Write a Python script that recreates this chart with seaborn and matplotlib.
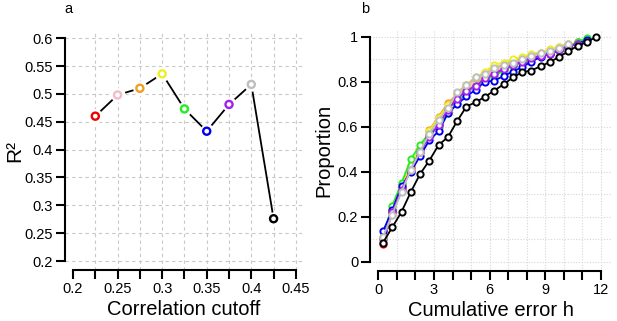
import numpy as np
import pandas as pd
import seaborn as sns
import matplotlib.pyplot as plt

# panel a: R^2 per correlation cutoff
cutoffs = [0.225, 0.25, 0.275, 0.3, 0.325, 0.35, 0.375, 0.4, 0.425]
r2 = [0.460, 0.498, 0.510, 0.536, 0.473, 0.433, 0.481, 0.517, 0.276]
cutoff_colors = ["#ee0000", "#f4bcc8", "#f0a020", "#eeee22", "#22ee22", "#0000ee", "#a020f0", "#bebebe", "black"]

# panel b: cumulative proportion vs cumulative error h, one curve per cutoff
err_h = [0.25 + 0.5 * i for i in range(24)]
prop_red = [0.08, 0.22, 0.33, 0.42, 0.49, 0.56, 0.61, 0.68, 0.73, 0.76, 0.785, 0.815,
            0.84, 0.86, 0.875, 0.89, 0.905, 0.915, 0.925, 0.94, 0.96, 0.975]
prop_pink = [0.09, 0.21, 0.315, 0.41, 0.49, 0.565, 0.62, 0.69, 0.74, 0.775, 0.80, 0.825,
             0.845, 0.865, 0.88, 0.895, 0.91, 0.925, 0.935, 0.95, 0.965]
prop_orange = [0.10, 0.23, 0.34, 0.425, 0.50, 0.585, 0.645, 0.705, 0.745, 0.785, 0.815, 0.84,
               0.86, 0.875, 0.89, 0.905, 0.92, 0.93, 0.94, 0.955, 0.97]
prop_yellow = [0.10, 0.24, 0.345, 0.43, 0.505, 0.58, 0.64, 0.695, 0.74, 0.785, 0.82, 0.845,
               0.875, 0.885, 0.90, 0.91, 0.925, 0.93, 0.945, 0.955, 0.97]
prop_green = [0.11, 0.25, 0.35, 0.455, 0.52, 0.57, 0.60, 0.66, 0.705, 0.755, 0.78, 0.81,
              0.825, 0.85, 0.87, 0.885, 0.90, 0.915, 0.93, 0.945, 0.96, 0.975, 0.995]
prop_blue = [0.135, 0.23, 0.335, 0.40, 0.47, 0.54, 0.58, 0.66, 0.70, 0.735, 0.765, 0.80,
             0.805, 0.825, 0.845, 0.865, 0.89, 0.91, 0.925, 0.94, 0.955, 0.97, 0.985]
prop_purple = [0.10, 0.22, 0.32, 0.41, 0.49, 0.555, 0.61, 0.675, 0.725, 0.76, 0.78, 0.815,
               0.835, 0.855, 0.875, 0.89, 0.905, 0.915, 0.925, 0.94, 0.955, 0.97]
prop_gray = [0.11, 0.21, 0.31, 0.41, 0.49, 0.57, 0.63, 0.685, 0.755, 0.785, 0.82, 0.835,
             0.86, 0.875, 0.885, 0.90, 0.915, 0.93, 0.935, 0.95, 0.97]
prop_black = [0.085, 0.153, 0.222, 0.31, 0.39, 0.45, 0.519, 0.554, 0.625, 0.69, 0.709, 0.733,
              0.761, 0.788, 0.819, 0.842, 0.85, 0.869, 0.887, 0.911, 0.935, 0.96, 0.976, 1.0]
curves = [prop_red, prop_pink, prop_orange, prop_yellow, prop_green,
          prop_blue, prop_purple, prop_gray, prop_black]

sns.set_style("white")
plt.rcParams['font.family'] = ['Liberation Sans', 'DejaVu Sans']
plt.rcParams['text.color'] = 'black'
plt.rcParams['axes.labelcolor'] = 'black'
plt.rcParams['xtick.color'] = 'black'
plt.rcParams['ytick.color'] = 'black'

fig = plt.figure(figsize=(6.17, 3.21), dpi=100)
ax_a = fig.add_axes([65 / 617, 1 - 270 / 321, 238 / 617, 238 / 321])
ax_b = fig.add_axes([370 / 617, 1 - 271 / 321, 242 / 617, 241 / 321])


def style_axis(ax):
    for side in ["top", "right"]:
        ax.spines[side].set_visible(False)
    for side in ["left", "bottom"]:
        ax.spines[side].set_linewidth(1.5)
        ax.spines[side].set_color("black")
    ax.tick_params(direction="out", length=6.5, width=1.5, labelsize=10.5, pad=2,
                   left=True, bottom=True, color="black")


# ---- panel a ----
grid_a = "#c8c8c8"
for v in np.arange(0.225, 0.4501, 0.025):
    ax_a.axvline(v, color=grid_a, lw=0.8, ls=(0, (3, 3)), zorder=0)
for h in np.arange(0.2, 0.6001, 0.05):
    ax_a.axhline(h, color=grid_a, lw=0.8, ls=(0, (3, 3)), zorder=0)

df_a = pd.DataFrame({"cutoff": cutoffs, "r2": r2})
sns.lineplot(data=df_a, x="cutoff", y="r2", color="black", lw=1.3, ax=ax_a, zorder=2)
sns.scatterplot(data=df_a, x="cutoff", y="r2", color="white", s=110, linewidth=0,
                ax=ax_a, zorder=3)
sns.scatterplot(data=df_a, x="cutoff", y="r2", color="white", s=26, linewidth=1.7,
                legend=False, ax=ax_a, zorder=4)
ax_a.collections[-1].set_edgecolor(cutoff_colors)
ax_a.collections[-1].set_facecolor("white")

ax_a.set_xlim(0.191, 0.458)
ax_a.set_ylim(0.184, 0.611)
ax_a.set_xticks(np.arange(0.2, 0.4501, 0.025))
ax_a.set_xticklabels(["0.2", "", "0.25", "", "0.3", "", "0.35", "", "0.4", "", "0.45"])
ax_a.set_yticks(np.arange(0.2, 0.6001, 0.05))
ax_a.set_yticklabels(["0.2", "0.25", "0.3", "0.35", "0.4", "0.45", "0.5", "0.55", "0.6"])
ax_a.spines["bottom"].set_bounds(0.2, 0.45)
ax_a.spines["left"].set_bounds(0.2, 0.6)
style_axis(ax_a)
ax_a.set_xlabel("Correlation cutoff", fontsize=14.5, labelpad=3)
ax_a.set_ylabel("R²", fontsize=15)
ax_a.yaxis.set_label_coords(-0.17, 0.5)

# ---- panel b ----
grid_b = "#d6d6d6"
for v in range(1, 13):
    ax_b.axvline(v, color=grid_b, lw=0.8, ls=(0, (1, 1.5)), zorder=0)
for h in np.arange(0, 1.001, 0.1):
    ax_b.axhline(h, color=grid_b, lw=0.8, ls=(0, (1, 1.5)), zorder=0)

for vals, col in zip(curves, cutoff_colors):
    sns.lineplot(x=err_h[:len(vals)], y=vals, color=col, lw=1.3, marker="o",
                 markersize=4.5, markerfacecolor="white", markeredgecolor=col,
                 markeredgewidth=1.4, ax=ax_b, zorder=3)

ax_b.set_xlim(-0.45, 12.6)
ax_b.set_ylim(-0.041, 1.03)
ax_b.set_xticks(range(0, 13))
ax_b.set_xticklabels(["0", "", "", "3", "", "", "6", "", "", "9", "", "", "12"])
ax_b.set_yticks(np.arange(0, 1.001, 0.2))
ax_b.set_yticklabels(["0", "0.2", "0.4", "0.6", "0.8", "1"])
ax_b.spines["bottom"].set_bounds(0, 12)
ax_b.spines["left"].set_bounds(0, 1)
style_axis(ax_b)
ax_b.set_xlabel("Cumulative error h", fontsize=14.5, labelpad=3)
ax_b.set_ylabel("Proportion", fontsize=14.5)
ax_b.yaxis.set_label_coords(-0.15, 0.5)

fig.text(68 / 617, 1 - 9 / 321, "a", fontsize=10.5, ha="center", va="center")
fig.text(365 / 617, 1 - 9 / 321, "b", fontsize=10.5, ha="center", va="center")

fig.savefig("out.png", dpi=100)
